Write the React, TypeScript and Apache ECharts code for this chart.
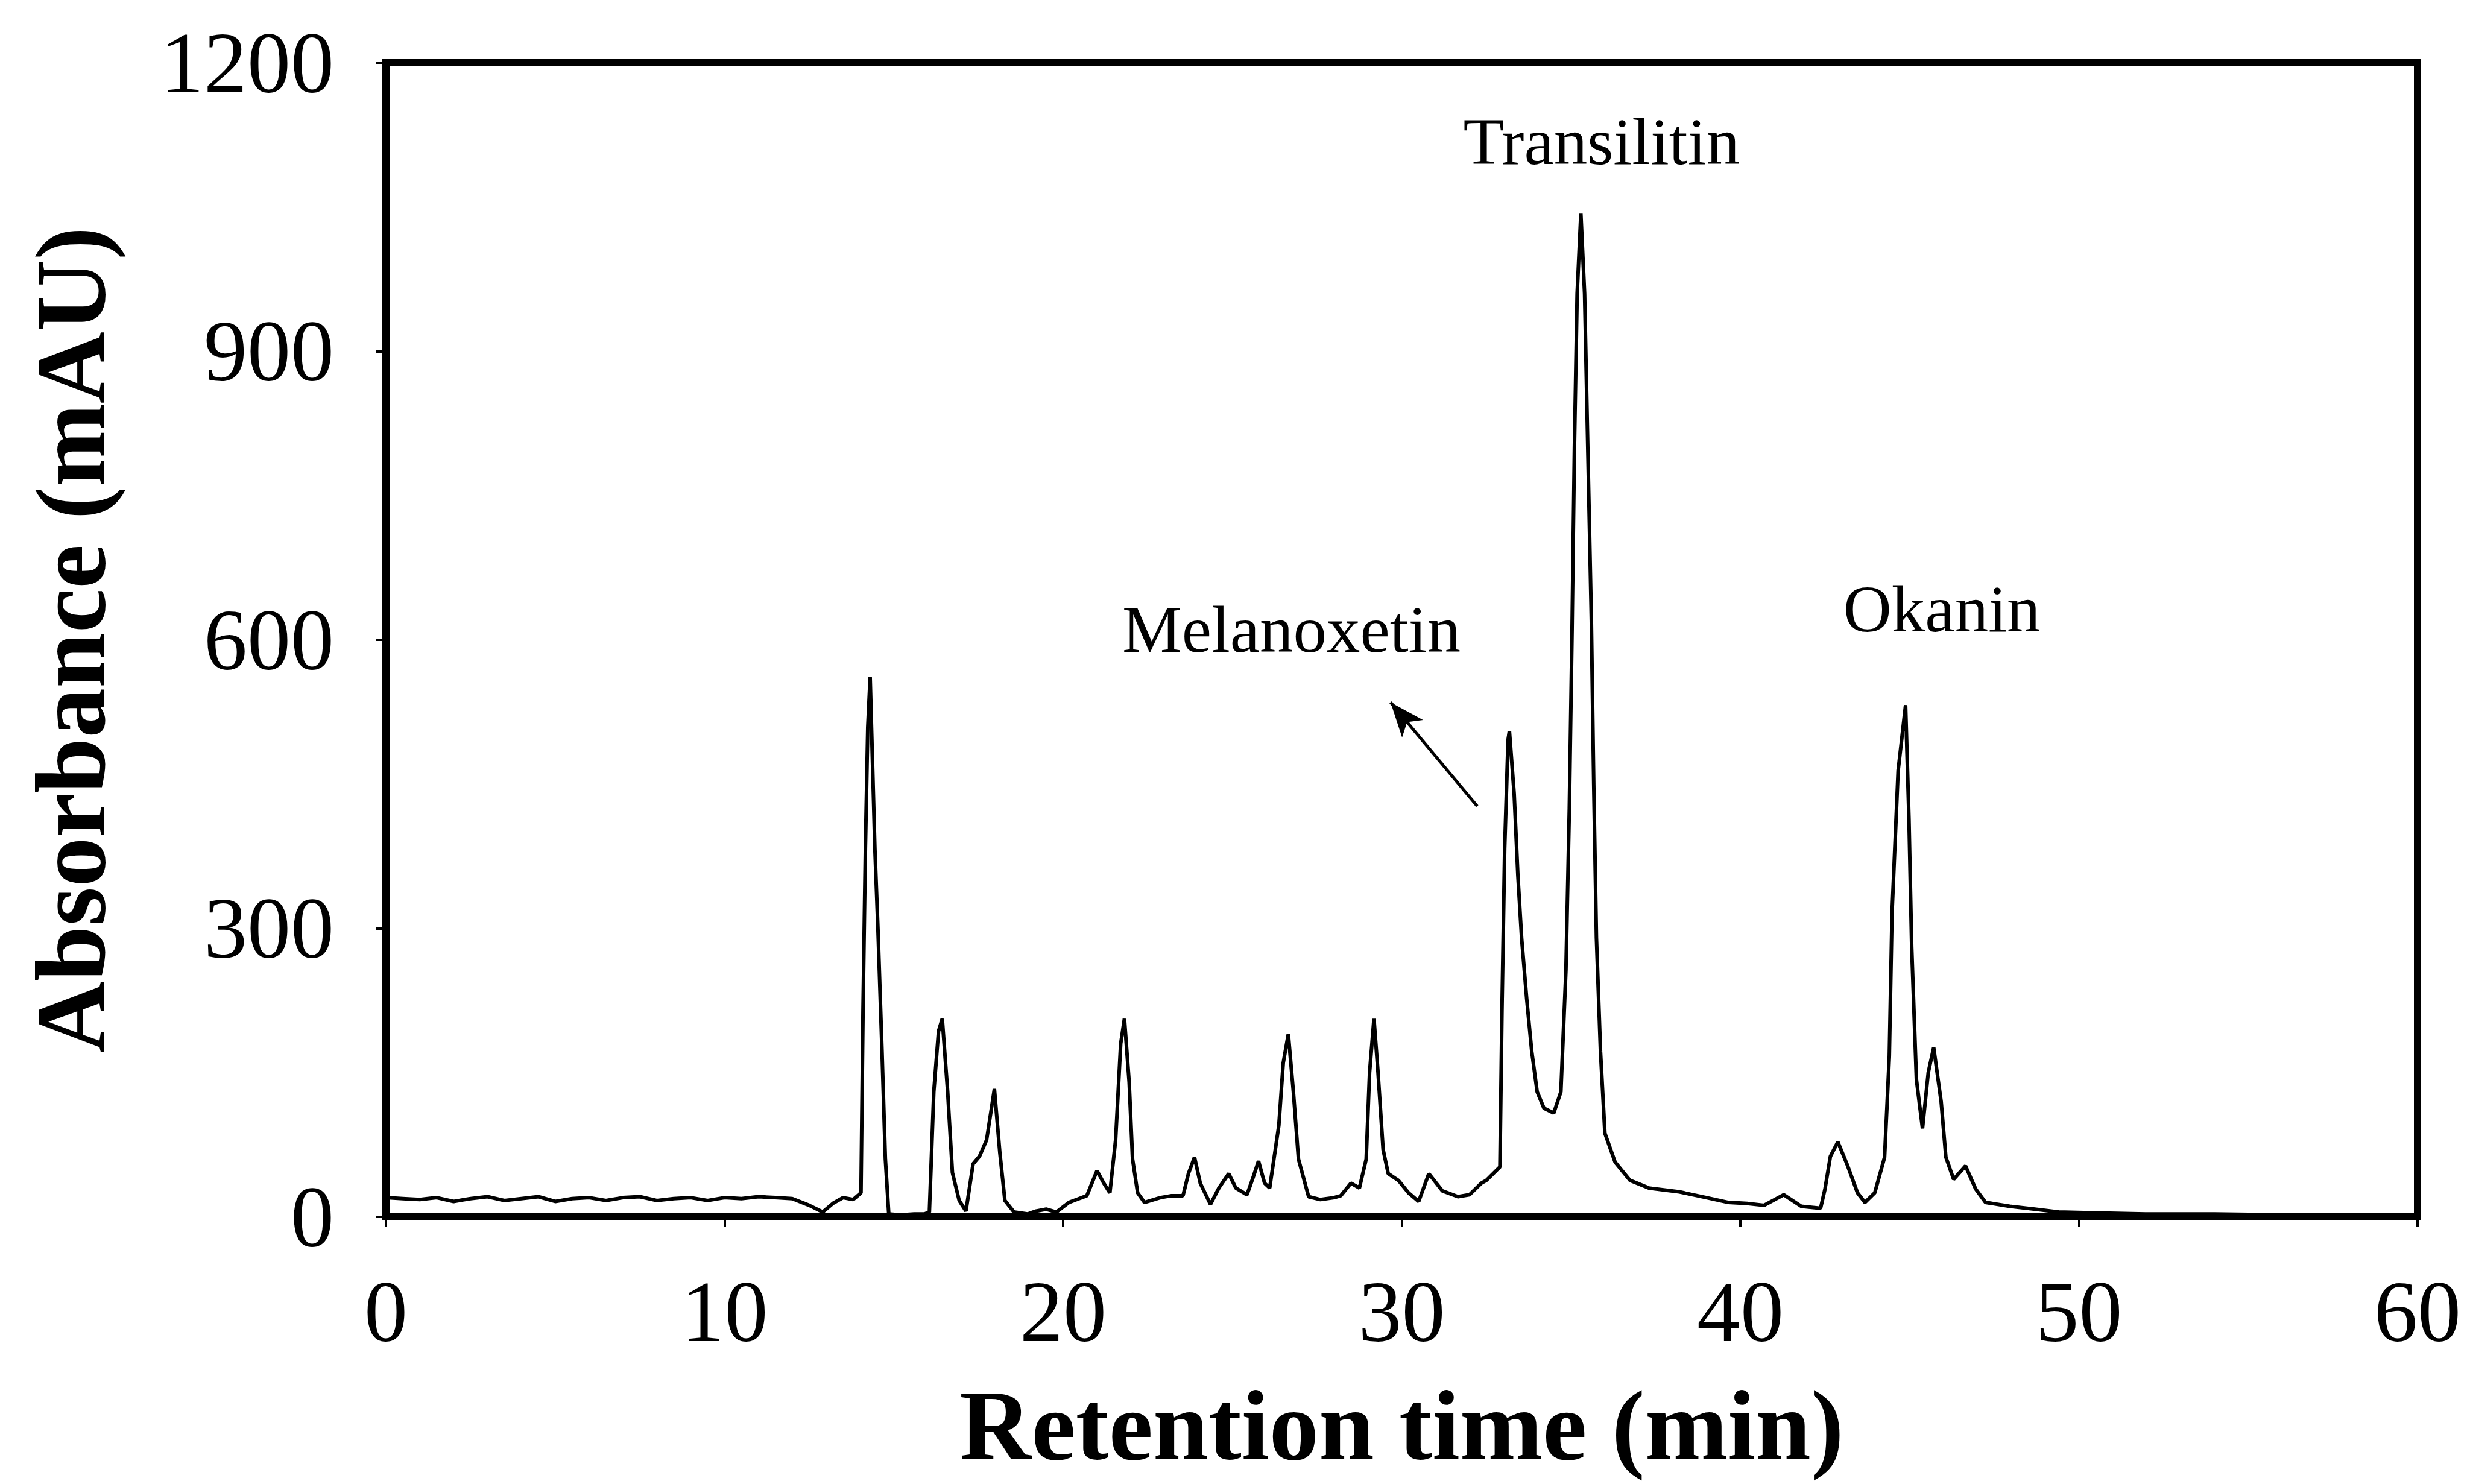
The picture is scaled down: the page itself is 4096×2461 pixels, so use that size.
import React, { useEffect, useRef } from "react";
import * as echarts from "echarts";

// Retention time (min) and absorbance (mAU)
const retentionTime = [
  0, 0.5, 1, 1.5, 2, 2.5, 3, 3.5, 4, 4.5, 5, 5.5, 6, 6.5, 7, 7.5, 8, 8.5, 9, 9.5,
  10, 10.5, 11, 11.5, 12, 12.5, 12.9, 13.2, 13.5, 13.8, 14.03, 14.09, 14.16, 14.23, 14.3,
  14.44, 14.53, 14.65, 14.75, 14.85, 15.2, 15.6, 15.9, 16.05, 16.18, 16.32, 16.43, 16.59,
  16.73, 16.93, 17.13, 17.34, 17.53, 17.74, 17.97, 18.13, 18.28, 18.55, 18.95, 19.2, 19.5,
  19.8, 20.17, 20.4, 20.7, 21.0, 21.2, 21.38, 21.55, 21.7, 21.81, 21.95, 22.05, 22.2, 22.4,
  22.87, 23.2, 23.54, 23.7, 23.88, 24.05, 24.35, 24.6, 24.89, 25.1, 25.43, 25.6, 25.77,
  25.95, 26.1, 26.37, 26.5, 26.65, 26.8, 26.95, 27.25, 27.6, 28.0, 28.2, 28.5, 28.75, 28.95,
  29.05, 29.18, 29.3, 29.45, 29.6, 29.9, 30.2, 30.5, 30.8, 31.2, 31.66, 32.0, 32.35, 32.5,
  32.9, 32.96, 33.04, 33.14, 33.18, 33.32, 33.43, 33.54, 33.69, 33.84, 34.0, 34.2, 34.49,
  34.7, 34.85, 34.95, 35.03, 35.1, 35.18, 35.29, 35.4, 35.5, 35.6, 35.67, 35.75, 35.87, 36.0,
  36.3, 36.74, 37.3, 38.2, 39.0, 39.65, 40.2, 40.7, 41.28, 41.8, 42.37, 42.5, 42.66, 42.88,
  43.17, 43.46, 43.68, 43.97, 44.26, 44.4, 44.48, 44.66, 44.88, 44.98, 45.06, 45.2, 45.38,
  45.55, 45.71, 45.93, 46.07, 46.3, 46.65, 46.95, 47.24, 47.96, 48.7, 49.4, 50.5, 52, 54,
  56, 58, 60,
];
const absorbance = [
  20, 19, 18, 20, 16, 19, 21, 17, 19, 21, 16, 19, 20, 17, 20, 21, 17, 19, 20, 17,
  20, 19, 21, 20, 19, 12, 5, 14, 20, 18, 25, 216, 383, 509, 561,
  383, 300, 173, 60, 3, 2, 3, 3, 5, 130, 193, 206, 130,
  46, 17, 6, 55, 63, 80, 133, 67, 17, 5, 3, 6, 8,
  5, 15, 18, 22, 48, 35, 25, 80, 180, 206, 140, 60, 25, 15,
  20, 22, 22, 45, 62, 35, 13, 30, 45, 30, 23, 40, 58,
  35, 30, 95, 160, 190, 130, 60, 21, 18, 20, 22, 35, 30, 60,
  150, 206, 150, 70, 45, 38, 25, 16, 45, 27, 21, 23, 35, 38,
  52, 215, 383, 496, 505, 440, 355, 290, 227, 172, 130, 113, 108,
  130, 257, 425, 610, 800, 960, 1043, 960, 790, 620, 450, 290, 172, 87,
  57, 38, 30, 26, 20, 15, 14, 12, 23, 11, 9, 29, 63, 78,
  53, 25, 15, 25, 62, 167, 316, 464, 532, 414, 281, 143, 92,
  150, 176, 120, 62, 39, 53, 29, 15, 11, 8, 5, 4, 3, 3,
  2, 2, 2,
];

const xTicks = [0, 10, 20, 30, 40, 50, 60];
const yTicks = [0, 300, 600, 900, 1200];

const peakNames = ["Transilitin", "Melanoxetin", "Okanin"];
const peakLabelTime = [35.9, 26.74, 45.95];
const peakLabelAbs = [1118, 611, 632];

const arrowFrom = [32.23, 427];
const arrowTo = [29.67, 535];

const FONT = "'Liberation Serif', 'Times New Roman', serif";

export default function App() {
  const ref = useRef<HTMLDivElement>(null);

  useEffect(() => {
    if (!ref.current) return;
    const chart = echarts.init(ref.current, undefined, { renderer: "svg" });
    const points = retentionTime.map((t, i) => [t, absorbance[i]]);
    chart.setOption({
      animation: false,
      backgroundColor: "#ffffff",
      grid: {
        left: 640,
        top: 104,
        width: 3369,
        height: 1914,
        show: true,
        borderColor: "#000",
        borderWidth: 12,
        backgroundColor: "transparent",
      },
      xAxis: {
        type: "value",
        min: xTicks[0],
        max: xTicks[xTicks.length - 1],
        interval: 10,
        axisLine: { show: true, lineStyle: { color: "#000", width: 12 } },
        axisTick: { show: true, inside: false, length: 16, lineStyle: { color: "#000", width: 4 } },
        axisLabel: {
          fontFamily: FONT,
          fontSize: 144,
          color: "#000",
          margin: 85,
          formatter: (v: number) => String(v),
        },
        splitLine: { show: false },
        name: "Retention time (min)",
        nameLocation: "middle",
        nameGap: 264,
        nameTextStyle: { fontFamily: FONT, fontWeight: "bold", fontSize: 165, color: "#000" },
      },
      yAxis: {
        type: "value",
        min: yTicks[0],
        max: yTicks[yTicks.length - 1],
        interval: 300,
        axisLine: { show: true, lineStyle: { color: "#000", width: 12 } },
        axisTick: { show: true, inside: false, length: 16, lineStyle: { color: "#000", width: 4 } },
        axisLabel: {
          fontFamily: FONT,
          fontSize: 144,
          color: "#000",
          margin: 86,
          formatter: (v: number) => String(v),
        },
        splitLine: { show: false },
        name: "Absorbance (mAU)",
        nameLocation: "middle",
        nameGap: 440,
        nameTextStyle: { fontFamily: FONT, fontWeight: "bold", fontSize: 165, color: "#000" },
      },
      series: [
        {
          type: "line",
          data: points,
          showSymbol: false,
          smooth: false,
          lineStyle: { color: "#000", width: 6 },
          markPoint: {
            silent: true,
            symbol: "circle",
            symbolSize: 1,
            itemStyle: { color: "rgba(0,0,0,0)" },
            label: {
              show: true,
              position: "inside",
              formatter: (p: any) => p.name,
              fontFamily: FONT,
              fontSize: 111,
              color: "#000",
            },
            data: peakNames.map((n, i) => ({
              name: n,
              coord: [peakLabelTime[i], peakLabelAbs[i]],
            })),
          },
          markLine: {
            silent: true,
            symbol: ["none", "arrow"],
            symbolSize: [34, 57],
            label: { show: false },
            lineStyle: { color: "#000", width: 5, type: "solid" },
            data: [[{ coord: arrowFrom }, { coord: arrowTo }]],
          },
        },
      ],
    });
    return () => chart.dispose();
  }, []);

  return (
    <div
      ref={ref}
      style={{ position: "absolute", left: 0, top: 0, width: 4096, height: 2461, background: "#fff" }}
    />
  );
}
